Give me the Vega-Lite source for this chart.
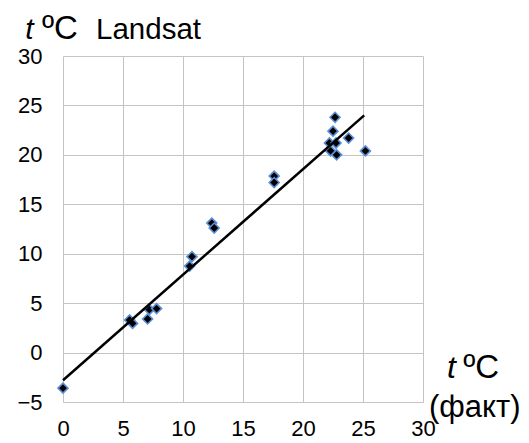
{
  "$schema": "https://vega.github.io/schema/vega-lite/v6.json",
  "width": 360,
  "height": 346,
  "autosize": {"type": "none"},
  "padding": {"left": 63, "top": 56, "right": 106, "bottom": 41},
  "background": "white",
  "config": {
    "view": {"stroke": null},
    "font": "Liberation Sans",
    "axis": {
      "grid": true,
      "gridColor": "#c4c4c4",
      "gridWidth": 1,
      "domain": false,
      "ticks": false,
      "labelFont": "Liberation Sans",
      "labelFontSize": 22,
      "labelColor": "#000000",
      "title": null
    }
  },
  "datasets": {
    "pts": [
      {"fact": 0, "landsat": -3.6},
      {"fact": 5.55, "landsat": 3.3},
      {"fact": 5.8, "landsat": 2.95},
      {"fact": 7.05, "landsat": 3.4},
      {"fact": 7.2, "landsat": 4.35},
      {"fact": 7.8, "landsat": 4.45},
      {"fact": 10.55, "landsat": 8.75},
      {"fact": 10.75, "landsat": 9.7},
      {"fact": 12.4, "landsat": 13.1},
      {"fact": 12.6, "landsat": 12.6},
      {"fact": 17.6, "landsat": 17.85},
      {"fact": 17.6, "landsat": 17.2},
      {"fact": 22.2, "landsat": 21.2},
      {"fact": 22.3, "landsat": 20.4},
      {"fact": 22.5, "landsat": 22.4},
      {"fact": 22.67, "landsat": 23.8},
      {"fact": 22.75, "landsat": 21.2},
      {"fact": 22.8, "landsat": 20.0},
      {"fact": 23.8, "landsat": 21.7},
      {"fact": 25.2, "landsat": 20.4}
    ],
    "trend": [
      {"fact": 0, "landsat": -2.8},
      {"fact": 25.1, "landsat": 24.0}
    ],
    "one": [{}]
  },
  "layer": [
    {
      "data": {"name": "pts"},
      "mark": {"type": "point", "shape": "diamond", "filled": true, "fill": "#000000", "stroke": "#5b8fd6", "strokeWidth": 1.6, "size": 100, "opacity": 1},
      "encoding": {
        "x": {"field": "fact", "type": "quantitative", "scale": {"domain": [0, 30], "nice": false, "zero": false},
              "axis": {"values": [0, 5, 10, 15, 20, 25, 30], "labelPadding": 16, "labelFlush": false}},
        "y": {"field": "landsat", "type": "quantitative", "scale": {"domain": [-5, 30], "nice": false, "zero": false},
              "axis": {"values": [-5, 0, 5, 10, 15, 20, 25, 30], "labelPadding": 21, "labelFlush": false, "labelBaseline": "middle"}}
      }
    },
    {
      "data": {"name": "trend"},
      "mark": {"type": "line", "color": "#000000", "strokeWidth": 2.5},
      "encoding": {
        "x": {"field": "fact", "type": "quantitative"},
        "y": {"field": "landsat", "type": "quantitative"}
      }
    },
    {
      "data": {"name": "one"},
      "mark": {"type": "text", "text": "t", "font": "Liberation Sans", "fontStyle": "italic", "fontSize": 30, "align": "left", "baseline": "alphabetic", "color": "#000000"},
      "encoding": {"x": {"datum": -3.15}, "y": {"datum": 31.67}}
    },
    {
      "data": {"name": "one"},
      "mark": {"type": "text", "text": "ºC", "font": "Liberation Sans", "fontSize": 33, "align": "left", "baseline": "alphabetic", "color": "#000000"},
      "encoding": {"x": {"datum": -1.75}, "y": {"datum": 31.67}}
    },
    {
      "data": {"name": "one"},
      "mark": {"type": "text", "text": "Landsat", "font": "Liberation Sans", "fontSize": 29.5, "align": "left", "baseline": "alphabetic", "color": "#000000"},
      "encoding": {"x": {"datum": 2.75}, "y": {"datum": 31.67}}
    },
    {
      "data": {"name": "one"},
      "mark": {"type": "text", "text": "t", "font": "Liberation Sans", "fontStyle": "italic", "fontSize": 32, "align": "left", "baseline": "alphabetic", "color": "#000000"},
      "encoding": {"x": {"datum": 32.0}, "y": {"datum": -2.57}}
    },
    {
      "data": {"name": "one"},
      "mark": {"type": "text", "text": "ºC", "font": "Liberation Sans", "fontSize": 33, "align": "left", "baseline": "alphabetic", "color": "#000000"},
      "encoding": {"x": {"datum": 33.35}, "y": {"datum": -2.57}}
    },
    {
      "data": {"name": "one"},
      "mark": {"type": "text", "text": "(факт)", "font": "Liberation Sans", "fontSize": 31, "align": "left", "baseline": "alphabetic", "color": "#000000"},
      "encoding": {"x": {"datum": 30.5}, "y": {"datum": -6.49}}
    }
  ]
}
